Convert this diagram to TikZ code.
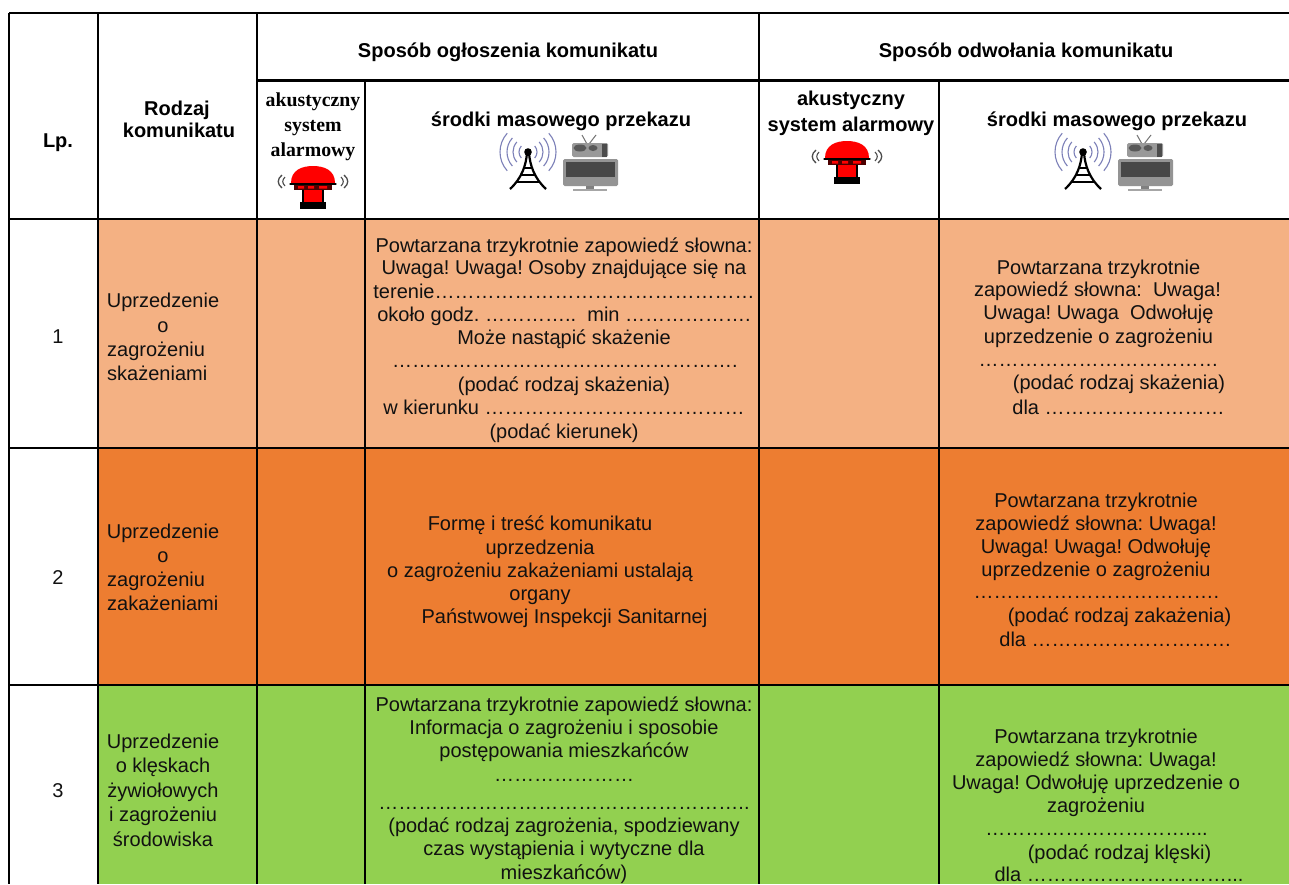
\documentclass[tikz,border=0pt]{standalone}
\usepackage{fontspec}
\setmainfont{Liberation Sans}
\newfontfamily\serifb[BoldFont={Liberation Serif Bold}]{Liberation Serif}
\definecolor{rowa}{HTML}{F4B183}
\definecolor{rowb}{HTML}{ED7D31}
\definecolor{rowc}{HTML}{92D050}
\definecolor{wavecol}{HTML}{7C80B8}
\definecolor{txt}{HTML}{111111}
\tikzset{
  line/.style={text=txt,anchor=base,inner sep=0pt,yshift=-1pt,font=\fontsize{20}{23}\selectfont\frenchspacing},
  leftline/.style={line,anchor=base west},
  head/.style={text=black,anchor=base,inner sep=0pt,yshift=-1pt,font=\fontsize{20}{23}\selectfont\bfseries},
  serifhead/.style={text=black,anchor=base,inner sep=0pt,yshift=-1pt,font=\fontsize{19.8}{23}\serifb\selectfont\bfseries},
  rule/.style={black,line width=2.6pt},
  thin rule/.style={black,line width=1.6pt},
  wave/.style={wavecol,line width=1.1pt},
}
\newcommand{\tl}[4]{\node[line] (#1) at (#2,#3) {#4};}
\newcommand{\tll}[4]{\node[leftline] (#1) at (#2,#3) {#4};}
\newcommand{\siren}[2]{%
 \begin{scope}[shift={(#1,#2)}]
  \fill[black] (-13,36) rectangle (13,43);
  \fill[red] (-10,22) rectangle (10,36);
  \draw[black,line width=1.6pt] (-10,22) -- (-10,36) (10,22) -- (10,36);
  \fill[black!70!red] (-19,16) rectangle (19,24);
  \fill[red] (-15,20) rectangle (-9,22.5) (-5,20) rectangle (1,22.5) (6,20) rectangle (14,22.5);
  \fill[red] (-22,17) .. controls (-22,4) and (-11,0) .. (0,0) .. controls (11,0) and (22,4) .. (22,17) -- cycle;
  \draw[black,line width=1.3pt,line cap=round] (-23,18) -- (23,18);
  \draw[black!70,line width=1.3pt] (-31,9) .. controls (-36,13) and (-36,18) .. (-31,22);
  \draw[black!70,line width=1.1pt] (-28,11) .. controls (-31,14) and (-31,17) .. (-28,20);
  \draw[black!70,line width=1.3pt] (31,9) .. controls (36,13) and (36,18) .. (31,22);
  \draw[black!70,line width=1.1pt] (28,11) .. controls (31,14) and (31,17) .. (28,20);
 \end{scope}}
\newcommand{\media}[1]{%
 \begin{scope}[shift={(#1,0)}]
  % tower
  \foreach \r in {9,15,21,28}{
   \draw[wave] (528,152)++(42:\r) arc[start angle=42,end angle=-42,radius=\r];
   \draw[wave] (528,152)++(138:\r) arc[start angle=138,end angle=222,radius=\r];
  }
  \fill[black] (528,152) circle (3.8);
  \draw[black,line width=2.2pt] (510,189) .. controls (522,178) and (526,165) .. (527,153);
  \draw[black,line width=2.2pt] (546,189) .. controls (534,178) and (530,165) .. (529,153);
  \draw[black,line width=1.8pt] (523,168) -- (533,168) (520,175) -- (536,175) (516,182) -- (540,182);
  % radio
  \draw[black!55,line width=1pt] (587,144) -- (582,135) (589,144) -- (596,135);
  \fill[black!40,rounded corners=1.5pt] (572,143) rectangle (608,157);
  \fill[black!65] (580,148) ellipse (6.5 and 3.5);
  \fill[black!65] (593,148) ellipse (4.5 and 3);
  \fill[black!70] (602,144) rectangle (607,157);
  % television
  \fill[black!42,rounded corners=1.5pt] (563,159) rectangle (618,186);
  \fill[black!72] (566,162) rectangle (615,177);
  \fill[black!50] (586,186) rectangle (594,189);
  \fill[black!35] (573,189) rectangle (607,191);
 \end{scope}}
\begin{document}
\begin{tikzpicture}[x=1pt,y=-1pt]
\useasboundingbox (0,0) rectangle (1289,884);
\clip (0,0) rectangle (1289,884);
\fill[white] (0,0) rectangle (1289,884);
% row fills
\fill[rowa] (98,219) rectangle (1289,448);
\fill[rowb] (98,448) rectangle (1289,685);
\fill[rowc] (98,685) rectangle (1289,884);
% grid
\draw[rule] (9,13) -- (1289,13);
\draw[rule,line width=2.2pt] (257,80.5) -- (1289,80.5);
\draw[rule] (9,13) -- (9,884);
\draw[rule] (98,13) -- (98,884);
\draw[rule] (257,13) -- (257,884);
\draw[rule] (365,80) -- (365,884);
\draw[rule] (759,13) -- (759,884);
\draw[rule] (939,80) -- (939,884);
\draw[thin rule] (9,219) -- (1289,219);
\draw[rule] (9,448) -- (1289,448);
\draw[rule] (9,685) -- (1289,685);
% header
\node[head] (h1) at (508,56) {Sposób ogłoszenia komunikatu};
\node[head] (h2) at (1026,56) {Sposób odwołania komunikatu};
\node[head] (lp) at (58,146) {Lp.};
\node[head] (ra) at (177,114) {Rodzaj};
\node[head] (rb) at (179,136) {komunikatu};
\node[serifhead] (aa) at (313,105) {akustyczny};
\node[serifhead] (ab) at (313,130) {system};
\node[serifhead] (ac) at (313,155) {alarmowy};
\node[head] (ma) at (561,125) {środki masowego przekazu};
\node[head] (ad) at (851,104) {akustyczny};
\node[head] (ae) at (851,130) {system alarmowy};
\node[head] (mb) at (1117,125) {środki masowego przekazu};
\siren{313}{166}
\siren{847}{141}
\media{0}
\media{555}
% row 1
\tl{na}{58}{342}{1}
\tl{la}{163}{306}{Uprzedzenie}
\tl{lb}{163}{331}{o}
\tll{lc}{107}{355}{zagrożeniu}
\tll{ld}{107}{379}{skażeniami}
\tl{ma1}{564}{251}{Powtarzana trzykrotnie zapowiedź słowna:}
\tl{ma2}{564}{273}{Uwaga! Uwaga! Osoby znajdujące się na}
\tl{ma3}{564}{297}{terenie…………………………………………}
\tl{ma4}{564}{320}{około godz. ………….. \ min ……………….}
\tl{ma5}{564}{343}{Może nastąpić skażenie}
\tl{ma6}{565}{366}{…………………………………………….}
\tl{ma7}{564}{390}{(podać rodzaj skażenia)}
\tl{ma8}{564}{413}{w kierunku …………………………………}
\tl{ma9}{564}{437}{(podać kierunek)}
\tl{ra1}{1098.5}{273}{Powtarzana trzykrotnie}
\tl{ra2}{1097.5}{295}{zapowiedź słowna: \ Uwaga!}
\tl{ra3}{1098.5}{318}{Uwaga! Uwaga \ Odwołuję}
\tl{ra4}{1098.5}{342}{uprzedzenie o zagrożeniu}
\tl{ra5}{1098.5}{365}{………………………………}
\tl{ra6}{1119}{388}{(podać rodzaj skażenia)}
\tl{ra7}{1118.5}{413}{dla ………………………}
% row 2
\tl{nb}{58}{583}{2}
\tl{lf}{163}{537}{Uprzedzenie}
\tl{lg}{163}{561}{o}
\tll{lh}{107}{585}{zagrożeniu}
\tll{li}{107}{609}{zakażeniami}
\tl{mb1}{540}{529}{Formę i treść komunikatu}
\tl{mb2}{540}{553}{uprzedzenia}
\tl{mb3}{540}{576}{o zagrożeniu zakażeniami ustalają}
\tl{mb4}{540}{599}{organy}
\tl{mb5}{564.5}{622}{Państwowej Inspekcji Sanitarnej}
\tl{rb1}{1096}{506}{Powtarzana trzykrotnie}
\tl{rb2}{1096}{529}{zapowiedź słowna: Uwaga!}
\tl{rb3}{1096}{552}{Uwaga! Uwaga! Odwołuję}
\tl{rb4}{1096}{575}{uprzedzenie o zagrożeniu}
\tl{rb5}{1096.5}{597}{……………………………….}
\tl{rb6}{1119.5}{621}{(podać rodzaj zakażenia)}
\tl{rb7}{1115.5}{645}{dla …………………………}
% row 3
\tl{nc}{58}{796}{3}
\tl{lk}{163}{747}{Uprzedzenie}
\tl{ll}{163}{771}{o klęskach}
\tl{lm}{163}{796}{żywiołowych}
\tl{ln}{163}{820}{i zagrożeniu}
\tl{lo}{163}{845}{środowiska}
\tl{mc1}{564}{710}{Powtarzana trzykrotnie zapowiedź słowna:}
\tl{mc2}{564}{733}{Informacja o zagrożeniu i sposobie}
\tl{mc3}{564}{756}{postępowania mieszkańców}
\tl{mc4}{564}{780}{…………………}
\tl{mc5}{564}{808}{………………………………………………..}
\tl{mc6}{564}{831}{(podać rodzaj zagrożenia, spodziewany}
\tl{mc7}{564}{854}{czas wystąpienia i wytyczne dla}
\tl{mc8}{564}{878}{mieszkańców)}
\tl{rc1}{1096}{742}{Powtarzana trzykrotnie}
\tl{rc2}{1096}{765}{zapowiedź słowna: Uwaga!}
\tl{rc3}{1096}{788}{Uwaga! Odwołuję uprzedzenie o}
\tl{rc4}{1096}{811}{zagrożeniu}
\tl{rc5}{1096.5}{834}{…………………………....}
\tl{rc6}{1119.5}{858}{(podać rodzaj klęski)}
\tl{rc7}{1119}{880}{dla …………………………...}
\end{tikzpicture}
\end{document}
